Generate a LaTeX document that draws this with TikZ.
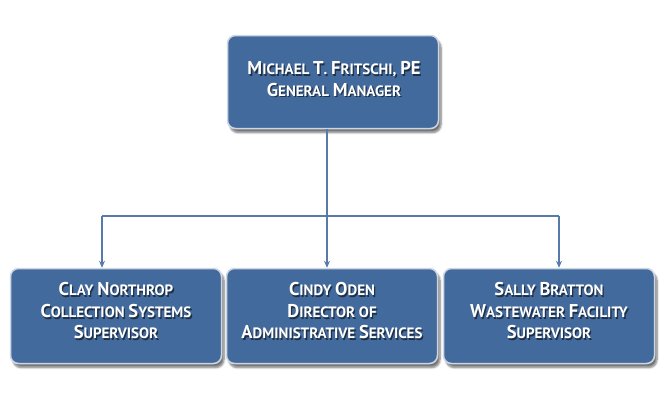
\documentclass[tikz,border=0pt]{standalone}
\usepackage{fontspec}
\setmainfont{PT Sans}
\usetikzlibrary{shadows.blur,arrows.meta,calc}
\definecolor{boxblue}{RGB}{67,106,157}
\definecolor{boxedge}{RGB}{205,214,226}
\definecolor{linkblue}{RGB}{88,122,170}
\newcommand\Bc[1]{{\fontsize{18.5}{21}\selectfont #1}}
\newcommand\orgtxt[3]{%
  \node[orgshade] at ($(#2)+(1.3,1.6)$) {#3};
  \node[orgtext] (#1) at (#2) {#3};}
\tikzset{
  orgbox/.style={draw=boxedge, line width=1.5pt, fill=boxblue, rounded corners=8pt,
    minimum width=211pt, minimum height=93pt, inner sep=0pt,
    blur shadow={shadow xshift=2.5pt, shadow yshift=-4pt, shadow blur steps=6, shadow opacity=55}},
  orgtext/.style={text=white, font=\bfseries\fontsize{15}{21.5}\selectfont, align=center, inner sep=0pt},
  orgshade/.style={text=black, text opacity=0.55, font=\bfseries\fontsize{15}{21.5}\selectfont, align=center, inner sep=0pt},
  link/.style={draw=linkblue, line width=1.1pt},
  arr/.style={-{Stealth[length=7pt,width=6pt]}}
}
\begin{document}
\begin{tikzpicture}[x=1pt,y={(0,-1pt)}]
\useasboundingbox (0,0) rectangle (666,400);
\node[orgbox] (top) at (333,82) {};
\node[orgbox, minimum height=95pt] (left) at (116,316) {};
\node[orgbox, minimum height=95pt] (mid) at (332,316) {};
\node[orgbox, minimum height=95pt] (right) at (549,316) {};
\coordinate (tl) at (334,79);
\orgtxt{ttop}{tl}{\Bc{M}ICHAEL \Bc{T}. \Bc{F}RITSCHI, \Bc{PE}\\\Bc{G}ENERAL \Bc{M}ANAGER}
\coordinate (ll) at (116,311);
\orgtxt{tleft}{ll}{\Bc{C}LAY \Bc{N}ORTHROP\\\Bc{C}OLLECTION \Bc{S}YSTEMS\\\Bc{S}UPERVISOR}
\coordinate (ml) at (332,311);
\orgtxt{tmid}{ml}{\Bc{C}INDY \Bc{O}DEN\\\Bc{D}IRECTOR OF\\\Bc{A}DMINISTRATIVE \Bc{S}ERVICES}
\coordinate (rl) at (549,311);
\orgtxt{tright}{rl}{\Bc{S}ALLY \Bc{B}RATTON\\\Bc{W}ASTEWATER \Bc{F}ACILITY\\\Bc{S}UPERVISOR}
\coordinate (j) at (327,216);
\coordinate (jl) at (102,216);
\coordinate (jr) at (559,216);
\draw[link] (top.south -| j) -- (j);
\draw[link] (jl) -- (jr);
\draw[link,arr] (jl) -- (jl |- left.north);
\draw[link,arr] (j) -- (j |- mid.north);
\draw[link,arr] (jr) -- (jr |- right.north);
\end{tikzpicture}
\end{document}
